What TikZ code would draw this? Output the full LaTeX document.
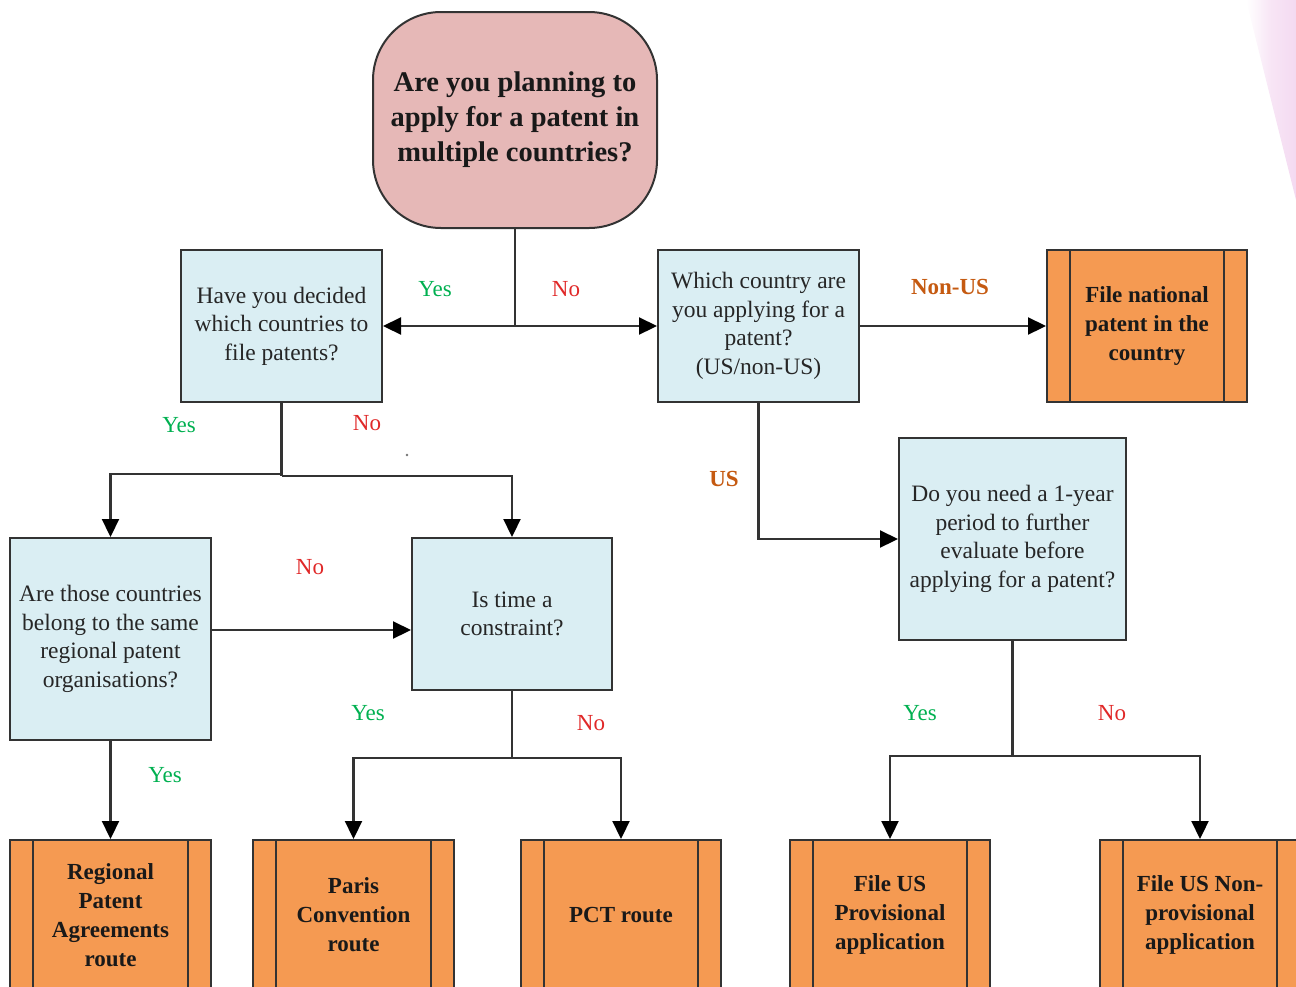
\documentclass[tikz,border=0pt]{standalone}
\usepackage{fontspec}
\setmainfont{LiberationSerif}[Extension=.ttf, UprightFont=*-Regular, BoldFont=*-Bold]
\usetikzlibrary{arrows.meta,shapes.misc}

\definecolor{qfill}{HTML}{DAEEF3}
\definecolor{startfill}{HTML}{E6B8B7}
\definecolor{endfill}{HTML}{F59A52}
\definecolor{edge}{HTML}{333333}
\definecolor{yescol}{HTML}{00B050}
\definecolor{nocol}{HTML}{E02828}
\definecolor{brown}{HTML}{C55A11}
\definecolor{streak}{HTML}{F4DAF1}

\tikzset{
  question/.style={draw=edge, line width=2pt, fill=qfill, inner sep=0pt,
    align=center, text=black!85, font=\fontsize{23.5}{28.5}\selectfont},
  startbox/.style={draw=edge, line width=2pt, fill=startfill, inner sep=0pt,
    rounded corners=68pt, align=center, text=black!90,
    font=\fontsize{28.5}{35}\selectfont\bfseries},
  outcome/.style={draw=edge, line width=2pt, fill=endfill, inner sep=0pt,
    align=center, text=black!90, font=\fontsize{23}{29}\selectfont\bfseries,
    path picture={
      \draw[edge, line width=1.8pt]
        ([xshift=23pt]path picture bounding box.north west) --
        ([xshift=23pt]path picture bounding box.south west);
      \draw[edge, line width=1.8pt]
        ([xshift=-23pt]path picture bounding box.north east) --
        ([xshift=-23pt]path picture bounding box.south east);
    }},
  link/.style={draw=edge, line width=2.2pt},
  arr/.style={link, -{Triangle[length=18pt,width=17pt,color=black]}},
  yeslbl/.style={text=yescol, font=\fontsize{23}{26}\selectfont},
  nolbl/.style={text=nocol, font=\fontsize{23}{26}\selectfont},
  countrylbl/.style={text=brown, font=\fontsize{23}{26}\selectfont\bfseries},
}

\begin{document}
\begin{tikzpicture}[x=1pt, y=-1pt]
  \useasboundingbox (0,0) rectangle (1296,986);
  \clip (0,0) rectangle (1296,986);

  % soft pink band along the upper right edge
  \shade[left color=white, right color=streak, middle color=streak!70]
    (1246,0) -- (1296,0) -- (1296,200) -- cycle;

  % start
  \node[startbox, minimum width=284pt, minimum height=216pt] (q0) at (515,120)
    {Are you planning to\\apply for a patent in\\multiple countries?};

  % questions
  \node[question, minimum width=201pt, minimum height=152pt] (qa) at (281.5,326)
    {Have you decided\\which countries to\\file patents?};
  \node[question, minimum width=201pt, minimum height=152pt] (qb) at (758.5,326)
    {Which country are\\you applying for a\\patent?\\(US/non-US)};
  \node[question, minimum width=201pt, minimum height=202pt] (qc) at (110.5,639)
    {Are those countries\\belong to the same\\regional patent\\organisations?};
  \node[question, minimum width=200pt, minimum height=152pt] (qd) at (512,614)
    {Is time a\\constraint?};
  \node[question, minimum width=227pt, minimum height=202pt] (qe) at (1012.5,539)
    {Do you need a 1-year\\period to further\\evaluate before\\applying for a patent?};

  % outcomes
  \node[outcome, minimum width=200pt, minimum height=152pt] (fn) at (1147,326)
    {File national\\patent in the\\country};
  \node[outcome, minimum width=201pt, minimum height=150pt] (rp) at (110.5,915)
    {Regional\\Patent\\Agreements\\route};
  \node[outcome, minimum width=201pt, minimum height=150pt] (pc) at (353.5,915)
    {Paris\\Convention\\route};
  \node[outcome, minimum width=200pt, minimum height=150pt] (pct) at (621,915)
    {PCT route};
  \node[outcome, minimum width=200pt, minimum height=150pt] (pv) at (890,915)
    {File US\\Provisional\\application};
  \node[outcome, minimum width=200pt, minimum height=150pt] (np) at (1200,915)
    {File US Non-\\provisional\\application};

  % junction points
  \coordinate (j0) at (515,326);
  \coordinate (j1) at (281.5,474);
  \coordinate (j1r) at (281.5,476);
  \coordinate (jc) at (211,630);
  \coordinate (j2) at (512,758);
  \coordinate (j3) at (1012.5,756);

  % connectors
  \draw[link] (q0.south) -- (j0);
  \draw[arr] (j0) -- (qa.east);
  \draw[arr] (j0) -- (qb.west);
  \draw[arr] (qb.east) -- (fn.west);
  \draw[arr] (qb.south) |- (qe.west);

  \draw[link] (qa.south) -- (j1r);
  \draw[arr] (j1) -| (qc.north);
  \draw[arr] (j1r) -| (qd.north);

  \draw[arr] (jc) -- (qd.west |- jc);
  \draw[arr] (qc.south) -- (rp.north);

  \draw[link] (qd.south) -- (j2);
  \draw[arr] (j2) -| (pc.north);
  \draw[arr] (j2) -| (pct.north);

  \draw[link] (qe.south) -- (j3);
  \draw[arr] (j3) -| (pv.north);
  \draw[arr] (j3) -| (np.north);

  % branch labels
  \node[yeslbl] (l1) at (435,289) {Yes};
  \node[nolbl] (l2) at (566,289) {No};
  \node[countrylbl] (l3) at (950,287) {Non-US};
  \node[countrylbl] (l4) at (724,479) {US};
  \node[yeslbl] (l5) at (179,425) {Yes};
  \node[nolbl] (l6) at (367,423) {No};
  \node[nolbl] (l7) at (310,567) {No};
  \node[yeslbl] (l8) at (165,775) {Yes};
  \node[yeslbl] (l9) at (368,713) {Yes};
  \node[nolbl] (l10) at (591,723) {No};
  \node[yeslbl] (l11) at (920,713) {Yes};
  \node[nolbl] (l12) at (1112,713) {No};

  % small stray mark
  \fill[black!55] (407,455) circle (1.3pt);
\end{tikzpicture}
\end{document}
